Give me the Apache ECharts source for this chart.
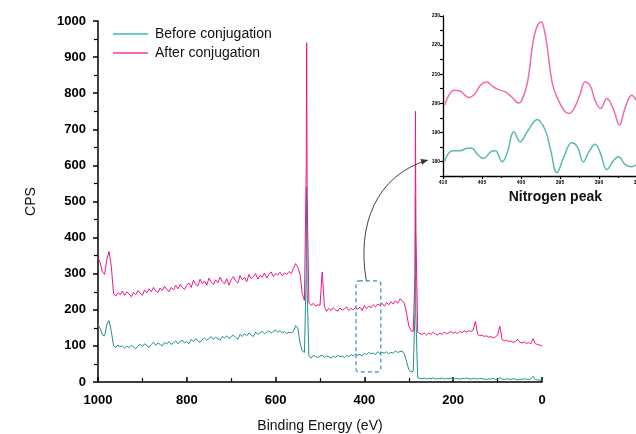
<!DOCTYPE html>
<html>
<head>
<meta charset="utf-8">
<script src="https://cdn.jsdelivr.net/npm/echarts@6/dist/echarts.min.js"></script>
<style>
  html, body { margin: 0; padding: 0; background: #fff; }
  #chart { width: 636px; height: 434px; }
</style>
</head>
<body>
<div id="chart"></div>
<script>
// XPS survey spectra: binding energy (eV) and counts per second
const energy = [
  1000,995,990,985,980,975,970,965,960,955,
  950,945,940,935,930,925,920,915,910,905,
  900,895,890,885,880,875,870,865,860,855,
  850,845,840,835,830,825,820,815,810,805,
  800,795,790,785,780,775,770,765,760,755,
  750,745,740,735,730,725,720,715,710,705,
  700,695,690,685,680,675,670,665,660,655,
  650,645,640,635,630,625,620,615,610,605,
  600,595,590,585,580,575,570,565,560,555,
  550,545,540,535,531,530,529,525,520,515,
  510,505,500,495,490,485,480,475,470,465,
  460,455,450,445,440,435,430,425,420,415,
  410,405,400,395,390,385,380,375,370,365,
  360,355,350,345,340,335,330,325,320,315,
  310,305,300,295,290,286,285,284,280,275,
  270,265,260,255,250,245,240,235,230,225,
  220,215,210,205,200,195,190,185,180,175,
  170,165,160,155,150,145,140,135,130,125,
  120,115,110,105,100,95,90,85,80,75,
  70,65,60,55,50,45,40,35,30,25,
  20,15,10,5,0
];

const cpsAfter = [
  345,330,305,298,340,362,320,245,238,248,
  242,252,240,250,244,236,248,242,253,246,
  240,255,247,258,250,262,252,248,260,254,
  265,256,250,262,255,268,258,270,262,256,
  268,274,262,282,270,266,285,272,280,268,
  288,276,270,283,275,290,278,272,286,268,
  284,292,280,274,295,283,290,278,298,286,
  292,300,285,296,290,302,288,298,305,292,
  300,296,304,294,302,298,306,300,314,328,
  318,298,245,226,600,940,520,220,212,218,
  210,214,212,305,208,196,204,198,206,200,
  196,205,199,203,208,198,204,200,206,202,
  207,198,212,203,210,206,214,208,216,212,
  218,210,220,214,222,216,225,218,230,226,
  218,190,155,142,140,300,750,420,138,134,
  132,136,130,135,132,138,133,130,136,132,
  138,134,136,140,135,138,134,140,137,142,
  138,142,140,144,168,132,128,130,126,128,
  124,126,122,125,130,155,118,114,116,112,
  114,110,112,118,110,108,111,107,109,106,
  120,106,104,102,100
];

const cpsBefore = [
  160,148,130,128,160,170,140,100,96,102,
  98,100,94,99,95,102,97,92,100,104,
  98,106,101,96,104,110,102,108,104,100,
  110,106,112,104,108,114,106,112,116,108,
  112,106,118,112,120,114,110,118,122,116,
  120,126,118,124,120,116,126,122,128,120,
  126,130,124,118,132,126,134,128,136,130,
  126,138,132,136,140,134,138,142,136,140,
  144,138,142,136,140,134,138,136,140,156,
  150,108,86,82,300,540,260,72,66,74,
  70,68,72,74,68,72,70,66,72,68,
  74,70,72,68,74,70,76,72,78,74,
  76,72,80,76,82,78,80,76,84,78,
  82,80,84,78,82,80,86,82,84,86,
  78,56,34,28,30,200,510,180,12,10,
  9,11,8,10,9,12,8,10,9,11,
  8,10,9,11,8,10,9,8,10,9,
  11,9,8,10,9,8,10,9,8,7,
  9,8,10,7,9,12,8,7,9,8,
  7,9,8,6,8,7,9,8,7,9,
  16,7,6,5,5
];

// N 1s detail window
const nAfterEnergy = [409.8,408.6,407.9,406.7,405.9,405.2,404.4,403.7,402.9,402.0,401.2,400.3,399.9,399.2,398.4,397.9,397.4,397.1,396.7,396.0,395.4,394.5,393.9,393.2,392.4,391.8,391.1,390.5,389.8,389.0,388.1,387.4,386.6,385.8,385.2];
const nAfterCps    = [199.3,204.5,204.3,202.0,203.3,206.2,207.3,205.9,204.7,203.9,202.2,200.1,201.0,206.8,222.0,226.7,227.9,226.2,220.5,207.0,202.2,197.6,196.5,198.2,203.3,207.3,205.9,201.0,198.2,201.6,197.6,192.5,198.8,202.8,201.0];
const nBeforeEnergy = [409.8,408.8,407.8,406.9,406.3,405.6,404.8,403.9,403.3,402.4,401.8,400.9,400.1,399.2,397.9,396.9,396.2,395.4,394.5,393.5,392.8,392.0,391.3,390.5,389.8,389.0,388.1,387.5,386.6,385.8,385.2];
const nBeforeCps    = [180.0,183.7,183.7,184.5,184.5,182.5,181.0,183.3,183.7,179.9,182.7,190.2,186.7,190.2,194.4,190.8,183.9,176.1,181.6,186.4,185.1,179.9,183.3,185.9,182.7,177.2,180.4,181.6,178.8,178.2,178.8];

// Region of the survey shown in the detail window (eV, CPS)
const boxEnergy = [419, 363];
const boxCps = [28, 280];

const seriesNames = ['Before conjugation', 'After conjugation'];
const insetTitle = 'Nitrogen peak';

const FONT = 'Liberation Sans, Arial, sans-serif';
const PINK = '#f0187f';
const TEAL = '#22908a';
const PINK_N = '#f06aac';
const TEAL_N = '#5cb9ae';
const PINK_KEY = '#f36cb2';
const TEAL_KEY = '#6ccaca';

const zip = (xs, ys) => xs.map((x, i) => [x, ys[i]]);
const plain = v => String(v);

const chart = echarts.init(document.getElementById('chart'), null, { renderer: 'canvas' });

const mainAxisLine = { show: true, onZero: false, lineStyle: { color: '#000', width: 1.5 } };
const insetAxisLine = { show: true, onZero: false, lineStyle: { color: '#000', width: 1.3 } };

chart.setOption({
  animation: false,
  backgroundColor: '#fff',
  textStyle: { fontFamily: FONT },
  legend: {
    data: [
      { name: seriesNames[0], itemStyle: { color: TEAL_KEY } },
      { name: seriesNames[1], itemStyle: { color: PINK_KEY } }
    ],
    orient: 'vertical',
    left: 108,
    top: 22,
    icon: 'rect',
    itemWidth: 35,
    itemHeight: 2,
    itemGap: 5,
    textStyle: { fontFamily: FONT, fontSize: 14, color: '#111', padding: [0, 0, 0, 2] }
  },
  grid: [
    { left: 98, right: 94, top: 21, bottom: 52, outerBoundsMode: 'none', containLabel: false },
    { left: 443, top: 16, width: 195, height: 160, outerBoundsMode: 'none', containLabel: false }
  ],
  xAxis: [
    {
      type: 'value', gridIndex: 0, min: 0, max: 1000, interval: 200, inverse: true,
      axisLine: mainAxisLine,
      axisTick: { show: true, inside: true, length: 5, lineStyle: { color: '#000', width: 1.5 } },
      minorTick: { show: true, splitNumber: 2, length: 4, lineStyle: { color: '#000', width: 1.2 } },
      splitLine: { show: false },
      axisLabel: { color: '#000', fontWeight: 'bold', fontSize: 13, fontFamily: FONT, margin: 12, formatter: plain },
      name: 'Binding Energy (eV)', nameLocation: 'middle', nameGap: 37,
      nameTextStyle: { color: '#111', fontSize: 14, fontFamily: FONT }
    },
    {
      type: 'value', gridIndex: 1, min: 385, max: 410, interval: 5, inverse: true,
      axisLine: insetAxisLine,
      axisTick: { show: true, length: 3, lineStyle: { color: '#000', width: 1.2 } },
      minorTick: { show: true, splitNumber: 2, length: 2, lineStyle: { color: '#000', width: 1 } },
      splitLine: { show: false },
      axisLabel: { color: '#000', fontWeight: 'bold', fontSize: 5, fontFamily: FONT, margin: 4, formatter: plain }
    }
  ],
  yAxis: [
    {
      type: 'value', gridIndex: 0, min: 0, max: 1000, interval: 100,
      axisLine: mainAxisLine,
      axisTick: { show: true, length: 5, lineStyle: { color: '#000', width: 1.5 } },
      minorTick: { show: true, splitNumber: 2, length: 4, lineStyle: { color: '#000', width: 1.2 } },
      splitLine: { show: false },
      axisLabel: { color: '#000', fontWeight: 'bold', fontSize: 13, fontFamily: FONT, margin: 12, formatter: plain },
      name: 'CPS', nameLocation: 'middle', nameGap: 60, nameRotate: 90,
      nameTextStyle: { color: '#111', fontSize: 14, fontFamily: FONT }
    },
    {
      type: 'value', gridIndex: 1, min: 175, max: 230, interval: 5,
      axisLine: insetAxisLine,
      axisTick: { show: true, length: 3, lineStyle: { color: '#000', width: 1.2 } },
      splitLine: { show: false },
      axisLabel: {
        color: '#000', fontWeight: 'bold', fontSize: 5, fontFamily: FONT, margin: 3,
        formatter: v => (v % 10 === 0 ? String(v) : '')
      }
    }
  ],
  series: [
    {
      name: seriesNames[0], type: 'line', xAxisIndex: 0, yAxisIndex: 0,
      data: zip(energy, cpsBefore), symbol: 'none', color: TEAL,
      lineStyle: { width: 1, color: TEAL }, z: 2
    },
    {
      name: seriesNames[1], type: 'line', xAxisIndex: 0, yAxisIndex: 0,
      data: zip(energy, cpsAfter), symbol: 'none', color: PINK,
      lineStyle: { width: 1, color: PINK }, z: 3
    },
    {
      name: 'N1s before', type: 'line', xAxisIndex: 1, yAxisIndex: 1,
      data: zip(nBeforeEnergy, nBeforeCps), symbol: 'none', smooth: 0.4,
      lineStyle: { width: 1.5, color: TEAL_N }, z: 4
    },
    {
      name: 'N1s after', type: 'line', xAxisIndex: 1, yAxisIndex: 1,
      data: zip(nAfterEnergy, nAfterCps), symbol: 'none', smooth: 0.4,
      lineStyle: { width: 1.5, color: PINK_N }, z: 4
    }
  ]
});

// Dashed selection box, connector arrow and the detail window caption
const tl = chart.convertToPixel({ gridIndex: 0 }, [boxEnergy[0], boxCps[1]]);
const br = chart.convertToPixel({ gridIndex: 0 }, [boxEnergy[1], boxCps[0]]);
const insetAnchor = chart.convertToPixel({ gridIndex: 1 }, [410, 180.5]);
const start = [(tl[0] + br[0]) / 2 - 2, tl[1]];
const end = [insetAnchor[0] - 15, insetAnchor[1]];
const cp1 = [start[0] - 10, start[1] - 56];
const cp2 = [start[0] + 10, end[1] + 15];
const dx = end[0] - cp2[0], dy = end[1] - cp2[1];
const len = Math.hypot(dx, dy), ux = dx / len, uy = dy / len;
const headLen = 7, headHalf = 3;
const base = [end[0] - ux * headLen, end[1] - uy * headLen];
const headPts = [
  end,
  [base[0] - uy * headHalf, base[1] + ux * headHalf],
  [base[0] + uy * headHalf, base[1] - ux * headHalf]
];
const captionPos = chart.convertToPixel({ gridIndex: 1 }, [395.6, 175]);

chart.setOption({
  graphic: [
    {
      type: 'rect', z: 10,
      shape: { x: tl[0], y: tl[1], width: br[0] - tl[0], height: br[1] - tl[1], r: 3 },
      style: { fill: 'none', stroke: '#3a8cc2', lineWidth: 1.2, lineDash: [4, 3] }
    },
    {
      type: 'bezierCurve', z: 10,
      shape: { x1: start[0], y1: start[1], cpx1: cp1[0], cpy1: cp1[1], cpx2: cp2[0], cpy2: cp2[1], x2: end[0], y2: end[1] },
      style: { fill: 'none', stroke: '#444', lineWidth: 1 }
    },
    {
      type: 'polygon', z: 10,
      shape: { points: headPts },
      style: { fill: '#333' }
    },
    {
      type: 'text', z: 10,
      x: captionPos[0], y: captionPos[1] + 21,
      style: {
        text: insetTitle, fill: '#111', font: 'bold 14px ' + FONT,
        align: 'center', verticalAlign: 'middle'
      }
    }
  ]
});
</script>
</body>
</html>
